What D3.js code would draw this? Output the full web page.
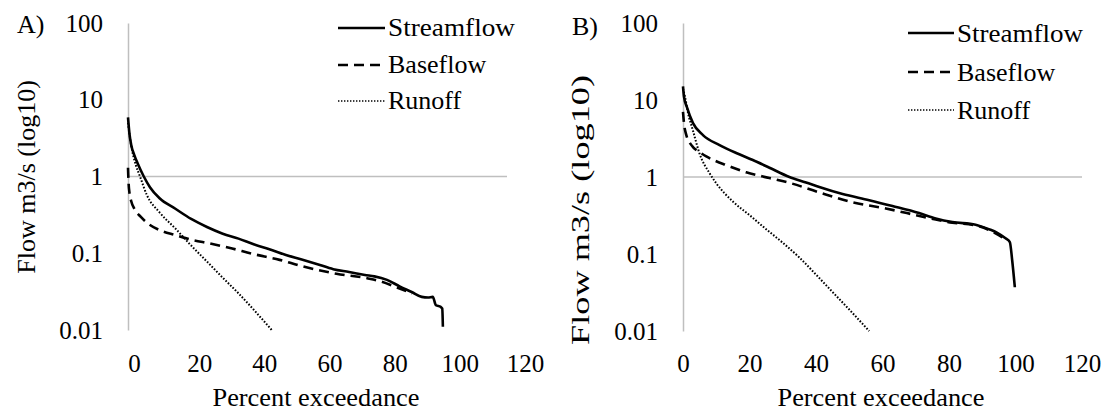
<!DOCTYPE html>
<html>
<head>
<meta charset="utf-8">
<script src="https://cdn.jsdelivr.net/npm/d3@7"></script>
<style>
  html, body { margin: 0; padding: 0; background: #fff; }
  svg { display: block; }
</style>
</head>
<body>
<svg id="chart" width="1105" height="414"></svg>
<script>
// Flow duration curves: percent exceedance vs flow (m3/s, log scale)

// Tick values and labels
const yTicks = [100, 10, 1, 0.1, 0.01];
const yTickLabels = ["100", "10", "1", "0.1", "0.01"];
const xTicks = [0, 20, 40, 60, 80, 100, 120];
const seriesNames = ["Streamflow", "Baseflow", "Runoff"];

// Panel A
const aStreamPct  = [0, 0.5, 1, 2, 3, 5, 7, 10, 15, 20, 25, 30, 35, 40, 45, 50, 55, 60, 65, 70, 75, 78, 82, 86, 90, 93, 95, 96.5, 97.5, 99, 99.5, 99.7];
const aStreamFlow = [5.9, 3.5, 2.6, 1.9, 1.5, 1.0, 0.72, 0.52, 0.38, 0.28, 0.22, 0.18, 0.155, 0.13, 0.112, 0.095, 0.083, 0.072, 0.062, 0.057, 0.052, 0.05, 0.045, 0.037, 0.031, 0.027, 0.0265, 0.027, 0.021, 0.02, 0.019, 0.011];
const aBasePct    = [0, 0.2, 0.5, 1, 2, 4, 6, 10, 15, 20, 26, 32, 40, 48, 55, 66, 76, 80, 85, 90];
const aBaseFlow   = [1.3, 0.8, 0.6, 0.48, 0.38, 0.3, 0.25, 0.2, 0.172, 0.15, 0.134, 0.118, 0.097, 0.082, 0.068, 0.054, 0.047, 0.043, 0.036, 0.030];
const aRunPct     = [0, 0.5, 1.2, 2.5, 3.8, 6, 10, 15, 20, 25, 30, 35, 40, 45.5];
const aRunFlow    = [5.0, 3.5, 2.3, 1.4, 1.0, 0.57, 0.34, 0.21, 0.126, 0.078, 0.048, 0.030, 0.018, 0.01];

// Panel B
const bStreamPct  = [0, 0.3, 1.2, 3, 6, 11, 16, 21, 26, 32, 37, 41, 48, 56, 63, 71, 76, 81, 88, 92, 94.4, 97, 98.3, 99, 99.8];
const bStreamFlow = [15, 11, 8, 5, 3.5, 2.6, 2.05, 1.66, 1.32, 1.0, 0.85, 0.74, 0.6, 0.5, 0.42, 0.34, 0.29, 0.26, 0.24, 0.21, 0.19, 0.16, 0.143, 0.083, 0.037];
const bBasePct    = [0, 0.3, 1, 2, 3, 5, 7, 10, 13, 19, 26, 32, 41, 51, 61, 70, 76, 81, 88, 92, 94, 97];
const bBaseFlow   = [7, 5, 3.5, 2.8, 2.45, 2.1, 1.85, 1.6, 1.43, 1.15, 0.97, 0.84, 0.63, 0.47, 0.39, 0.32, 0.28, 0.255, 0.235, 0.205, 0.185, 0.155];
const bRunPct     = [0, 0.6, 1.5, 3, 5, 8, 10, 15, 20, 25, 30, 35, 40, 45, 50, 56];
const bRunFlow    = [14, 11, 6.8, 4, 2, 1.12, 0.83, 0.48, 0.32, 0.21, 0.14, 0.09, 0.054, 0.032, 0.019, 0.01];

const FONT = "Liberation Serif";

const svg = d3.select("#chart");
svg.append("rect").attr("width", 1105).attr("height", 414).attr("fill", "#fff");

const styles = [
  { width: 2.6, dash: null },
  { width: 2.6, dash: "10,6" },
  { width: 2.0, dash: "1.6,1.7" }
];

const panels = [
  {
    tag: "A)", tagX: 17, tagY: 33,
    left: 128, right: 507, labLeft: 134, labRight: 525, top: 23, bottom: 330,
    titleX: 26, titleY: 177, titleLen: null,
    xTitleX: 316, xTitleLen: 207,
    legX: 338, legTextX: 388, legRows: [28, 65, 101], legBase: 8, legLen: 127,
    series: [[aStreamPct, aStreamFlow], [aBasePct, aBaseFlow], [aRunPct, aRunFlow]]
  },
  {
    tag: "B)", tagX: 572, tagY: 35,
    left: 683, right: 1082, labLeft: 683, labRight: 1082, top: 23, bottom: 331,
    titleX: 580, titleY: 210, titleLen: 270,
    xTitleX: 881, xTitleLen: 207,
    legX: 908, legTextX: 957, legRows: [33, 72, 110], legBase: 9, legLen: 126,
    series: [[bStreamPct, bStreamFlow], [bBasePct, bBaseFlow], [bRunPct, bRunFlow]]
  }
];

panels.forEach(p => {
  const g = svg.append("g").attr("font-family", FONT).attr("fill", "#000");
  const x = d3.scaleLinear().domain([0, 120]).range([p.left, p.right]);
  const xLab = d3.scaleLinear().domain([0, 120]).range([p.labLeft, p.labRight]);
  const y = d3.scaleLog().domain([0.01, 100]).range([p.bottom, p.top]);

  // horizontal gridline at 1
  g.append("line")
    .attr("x1", x(0)).attr("x2", x(120))
    .attr("y1", y(1)).attr("y2", y(1))
    .attr("stroke", "#bfbfbf").attr("stroke-width", 1.5);

  // vertical axis with labels
  const yAxis = g.append("g")
    .attr("transform", `translate(${x(0)},0)`)
    .call(d3.axisLeft(y).tickValues(yTicks)
      .tickFormat((d, i) => yTickLabels[i])
      .tickSize(0).tickPadding(25));
  yAxis.attr("font-family", FONT);
  yAxis.select(".domain").attr("stroke", "#bfbfbf").attr("stroke-width", 1.5);
  yAxis.selectAll("text").attr("font-size", 25).attr("font-family", FONT);

  // horizontal axis labels
  const xAxis = g.append("g")
    .attr("transform", `translate(0,363)`)
    .call(d3.axisBottom(xLab).tickValues(xTicks).tickSize(0));
  xAxis.attr("font-family", FONT);
  xAxis.select(".domain").remove();
  xAxis.selectAll("text").attr("y", 0).attr("dy", "0.35em")
    .attr("font-size", 25).attr("font-family", FONT);

  // axis titles
  const yt = g.append("text")
    .attr("transform", `translate(${p.titleX},${p.titleY}) rotate(-90)`)
    .attr("text-anchor", "middle").attr("dy", "0.35em")
    .attr("font-family", FONT).attr("font-size", 26).text("Flow m3/s (log10)");
  if (p.titleLen) yt.attr("textLength", p.titleLen).attr("lengthAdjust", "spacingAndGlyphs");

  g.append("text")
    .attr("x", p.xTitleX).attr("y", 406)
    .attr("text-anchor", "middle").attr("font-family", FONT).attr("font-size", 26)
    .attr("textLength", p.xTitleLen).attr("lengthAdjust", "spacingAndGlyphs")
    .text("Percent exceedance");

  // panel tag
  g.append("text").attr("x", p.tagX).attr("y", p.tagY)
    .attr("font-family", FONT).attr("font-size", 26).text(p.tag);

  // curves
  const line = d3.line()
    .x(d => x(d[0])).y(d => y(d[1]))
    .curve(d3.curveMonotoneX);
  p.series.forEach((s, i) => {
    const pts = s[0].map((v, k) => [v, s[1][k]]);
    const path = g.append("path")
      .datum(pts)
      .attr("d", line)
      .attr("fill", "none")
      .attr("stroke", "#000")
      .attr("stroke-width", styles[i].width)
      .attr("stroke-linejoin", "round");
    if (styles[i].dash) path.attr("stroke-dasharray", styles[i].dash);
  });

  // legend
  seriesNames.forEach((name, i) => {
    const ry = p.legRows[i];
    const ln = g.append("line")
      .attr("x1", p.legX).attr("x2", p.legTextX - 3)
      .attr("y1", ry).attr("y2", ry)
      .attr("stroke", "#000")
      .attr("stroke-width", i === 2 ? 1.6 : 2.4);
    if (styles[i].dash) ln.attr("stroke-dasharray", i === 2 ? "1.4,1.6" : "10,6");
    const t = g.append("text")
      .attr("x", p.legTextX).attr("y", ry + p.legBase)
      .attr("font-family", FONT).attr("font-size", 26).text(name);
    if (i === 0) t.attr("textLength", p.legLen).attr("lengthAdjust", "spacingAndGlyphs");
  });
});
</script>
</body>
</html>
